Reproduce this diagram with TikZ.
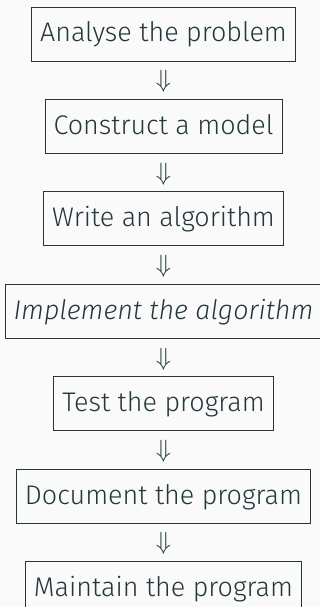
\documentclass[tikz,border=0pt]{standalone}
\usepackage{fontspec}
\setmainfont{Fira Sans}[UprightFont=*-Light, ItalicFont=*-Light Italic]
\usetikzlibrary{positioning}
\definecolor{mDarkTeal}{HTML}{23373B}
\definecolor{mBack}{HTML}{FAFAFA}
\tikzset{
  stepbox/.style={draw=mDarkTeal, line width=0.9pt, text=mDarkTeal,
    inner xsep=8.5pt, inner ysep=0pt, text height=35pt, text depth=19pt,
    font=\fontsize{26.9}{32}\selectfont},
  downsym/.style={text=mDarkTeal, inner sep=0pt, font=\fontsize{26}{30}\selectfont}
}
\begin{document}
\begin{tikzpicture}[x=1pt, y=1pt, node distance=37.5pt]
\useasboundingbox (0,0) rectangle (320,-607);
\fill[mBack] (0,0) rectangle (320,-607);
\clip (0,0) rectangle (320,-607);
% the steps, top to bottom
\node[stepbox] (analyse) at (163.5,-34) {Analyse the problem};
\node[stepbox, below=of analyse] (model) {Construct a model};
\node[stepbox, below=of model] (algo) {Write an algorithm};
\node[stepbox, below=of algo] (impl) {\itshape Implement the algorithm};
\node[stepbox, below=of impl] (test) {Test the program};
\node[stepbox, below=of test] (doc) {Document the program};
\node[stepbox, below=of doc] (maint) {Maintain the program};
% arrows between the steps
\foreach \a/\b in {analyse/model, model/algo, algo/impl, impl/test, test/doc, doc/maint}
  \path (\a) -- node[downsym, yshift=-1.5pt] {$\Downarrow$} (\b);
\end{tikzpicture}
\end{document}
